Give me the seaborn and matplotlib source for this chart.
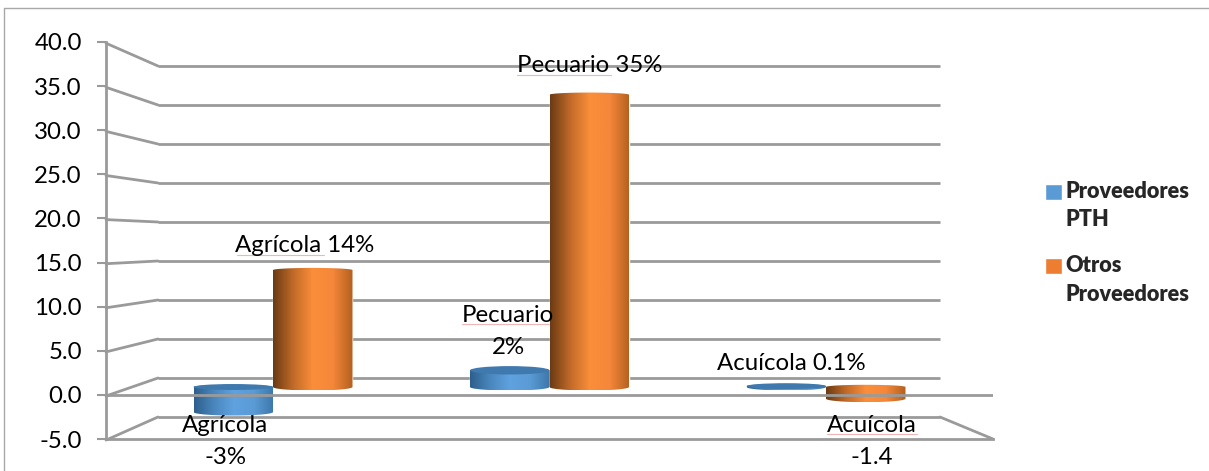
import numpy as np
import pandas as pd
import matplotlib
matplotlib.use('Agg')
import matplotlib.pyplot as plt
from matplotlib.colors import LinearSegmentedColormap
from matplotlib.patches import Ellipse, Polygon
import seaborn as sns

# Data
sectores = ['Agrícola', 'Pecuario', 'Acuícola']
series = ['Proveedores\nPTH', 'Otros\nProveedores']
pth = [-3, 2, 0.1]
otros = [14, 35, -1.4]
y_ticks = [-5, 0, 5, 10, 15, 20, 25, 30, 35, 40]

df = pd.DataFrame({
    'sector': sectores * 2,
    'serie': [series[0]] * 3 + [series[1]] * 3,
    'valor': pth + otros,
})

W, H = 1209, 471
sns.set_style('white')
plt.rcParams['font.family'] = ['Lato', 'DejaVu Sans']
LINE = '#9a9a9a'
LW = 2.0
fig = plt.figure(figsize=(W / 100, H / 100), dpi=100)


def box(x0, y0, x1, y1):
    # pixel box, measured from the top left, to figure fractions
    return [x0 / W, 1 - y1 / H, (x1 - x0) / W, (y1 - y0) / H]


# Back wall and side wall, in pixels
wall = fig.add_axes([0, 0, 1, 1], zorder=1)
wall.set_xlim(0, W)
wall.set_ylim(H, 0)
wall.axis('off')
for v in y_ticks:
    front_y = 396 - 8.82 * v
    back_y = 378 - 7.8 * v
    wall.plot([158, 940], [back_y, back_y], color=LINE, lw=LW, solid_capstyle='butt')
    wall.plot([106, 158], [front_y, back_y], color=LINE, lw=LW)
wall.plot([940, 993], [417, 439], color=LINE, lw=LW)
wall.plot([4, 4, W], [H, 8, 8], color='#a8a8a8', lw=1.0)

# Bars
ax = fig.add_axes(box(106, 0, 993, H), zorder=2)
ax.patch.set_visible(False)
sns.barplot(data=df, x='sector', y='valor', hue='serie', hue_order=series,
            palette=['#5b9bd5', '#ed7d31'], saturation=1, width=0.575, gap=0, ax=ax)
handles, labels = ax.get_legend_handles_labels()
ax.get_legend().remove()
xlim = (-0.604, 2.604)
ylim = (-84 / 8.35, 387 / 8.35)

cmaps = [
    LinearSegmentedColormap.from_list('azul', ['#2d5f8c', '#4a86bd', '#5fa2e0', '#5b9bd5', '#3c77aa']),
    LinearSegmentedColormap.from_list('naranja', ['#6b3a14', '#c06a28', '#fb8e3a', '#f5873a', '#b2601f']),
]
grad = np.linspace(0, 1, 256).reshape(1, -1)
ry = 3.5 / 8.35
ry_top = 2.2 / 8.35
t = np.linspace(0, np.pi, 40)
for s_i, cont in enumerate(ax.containers):
    for bar in cont:
        x0 = bar.get_x()
        w = bar.get_width()
        low = min(bar.get_y(), bar.get_y() + bar.get_height())
        high = max(bar.get_y(), bar.get_y() + bar.get_height())
        cx = x0 + w / 2
        top = np.column_stack([cx - w / 2 * np.cos(t), high + ry_top * np.sin(t)])
        bottom = np.column_stack([cx + w / 2 * np.cos(t), low - ry * np.sin(t)])
        shape = Polygon(np.vstack([top, bottom]), closed=True, transform=ax.transData,
                        facecolor='none', edgecolor='none')
        ax.add_patch(shape)
        im = ax.imshow(grad, cmap=cmaps[s_i], aspect='auto', zorder=3,
                       extent=(x0, x0 + w, low - ry, high + ry))
        im.set_clip_path(shape)
        if s_i == 0:
            # flat lid of the blue cylinders
            lid = Ellipse((cx, high), w, 2 * ry * (1.2 if high > 0.5 else 0.85),
                          facecolor='#4079ad', edgecolor='none', zorder=4)
            ax.add_patch(lid)
ax.set_xlim(*xlim)
ax.set_ylim(*ylim)
ax.axis('off')

# Front axis with the real tick labels
front = fig.add_axes(box(106, 42, 993, 439), zorder=3)
front.patch.set_visible(False)
front.set_ylim(-5, 40)
front.set_xlim(0, 1)
front.set_yticks(y_ticks)
front.set_yticklabels([f'{v:.1f}' for v in y_ticks], fontsize=17.3, color='black', va='center_baseline')
front.set_xticks([])
front.tick_params(axis='y', length=6.5, width=1.5, color=LINE, pad=11, left=True)
for name, sp in front.spines.items():
    sp.set_visible(name in ('left', 'bottom'))
    sp.set_color(LINE)
    sp.set_linewidth(LW)
front.axhline(0, color=LINE, lw=LW)

# Legend
leg = fig.legend(handles, labels, loc='upper left', bbox_to_anchor=(1036 / W, 1 - 172 / H),
                 frameon=False, prop={'weight': 'heavy', 'size': 15.6}, handlelength=0.8,
                 handleheight=0.8, handletextpad=0.15, labelspacing=1.12, borderaxespad=0)
leg.set_zorder(5)
for text in leg.get_texts():
    text.set_linespacing(1.46)
for p in leg.get_patches():
    p.set_y(p.get_y() + 10.5)

# Data labels and the spell check underlines
data_labels = [
    ('Agrícola 14%', 305, 246), ('Pecuario 35%', 590, 66), ('Pecuario', 508, 315),
    ('2%', 508, 347), ('Acuícola 0.1%', 791, 363), ('Agrícola', 225, 426),
    ('-3%', 225, 458), ('Acuícola', 872, 425), ('-1.4', 872, 457),
]
for s, x, y in data_labels:
    fig.text(x / W, 1 - y / H, s, ha='center', va='center', fontsize=17.3, color='black', zorder=6)
for x0, x1, y in [(237, 324, 255), (517, 611, 75), (462, 555, 324), (827, 917, 434)]:
    wall.plot([x0, x1], [y, y], color='#f2b5b5', lw=0.8)

fig.savefig('out.png', dpi=100)
